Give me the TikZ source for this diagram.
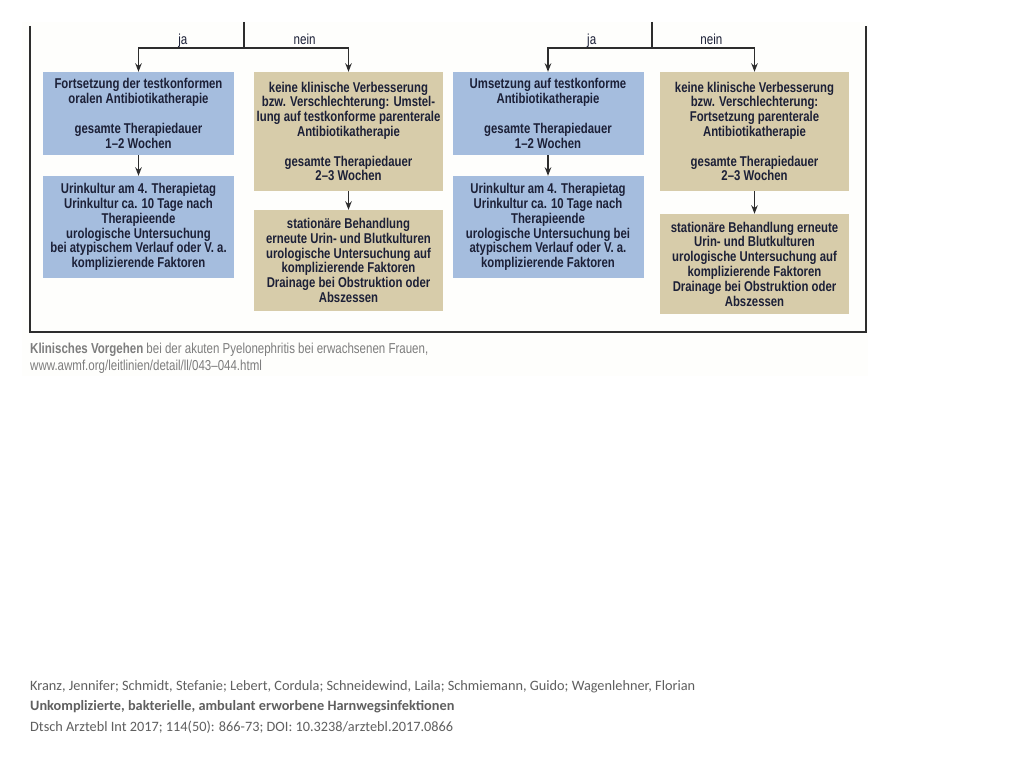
\documentclass[tikz,border=0pt]{standalone}
\usepackage{fontspec}
\setmainfont{Liberation Sans}
\newfontfamily\condfont[FakeStretch=0.8]{Liberation Sans}
\newfontfamily\citefont{Carlito}
\usetikzlibrary{arrows.meta}
\definecolor{therCol}{RGB}{165,189,222}
\definecolor{escCol}{RGB}{215,204,170}
\definecolor{txtCol}{RGB}{28,32,55}
\definecolor{lineCol}{RGB}{45,45,45}
\definecolor{capGray}{RGB}{125,125,125}
\definecolor{citeGray}{RGB}{95,95,95}
\definecolor{paperCol}{RGB}{254,254,252}
\newcommand{\gap}{\\[14.8pt]}
\tikzset{
  box/.style={align=center, text=txtCol, inner sep=0pt,
              font=\condfont\bfseries\fontsize{14.2}{14.8}\selectfont},
  ther/.style={box, fill=therCol, minimum width=191pt},
  esc/.style={box, fill=escCol, minimum width=189pt},
  branch/.style={draw=lineCol, line width=1.8pt},
  dep/.style={-{Stealth[length=8.5pt,width=6.5pt]}, draw=lineCol, line width=1.7pt},
  lbl/.style={font=\condfont\fontsize{14.5}{15}\selectfont, text=txtCol, inner sep=0pt,
              text height=8pt, text depth=0pt, yshift=-1pt, pos=0.29, above=4pt},
}

\begin{document}
\begin{tikzpicture}[x=1pt,y=-1pt]
  \useasboundingbox (0,0) rectangle (1024,768);
  \fill[white] (0,0) rectangle (1024,768);
  \fill[paperCol] (22,22) rectangle (868,376);

  % left pair: ja / nein
  \node[ther, minimum height=83pt] (oralA) at (138.5,113.5)
    {Fortsetzung der testkonformen\\ oralen Antibiotikatherapie\gap
     gesamte Therapiedauer\\ 1–2 Wochen};
  \node[ther, minimum height=102pt] (kulturA) at (138.5,227)
    {Urinkultur am 4. Therapietag\\ Urinkultur ca. 10 Tage nach\\ Therapieende\\
     urologische Untersuchung\\ bei atypischem Verlauf oder V. a.\\ komplizierende Faktoren};
  \node[esc, minimum height=119pt] (paraA) at (348.5,131.5)
    {keine klinische Verbesserung\\ bzw. Verschlechterung: Umstel-\\
     lung auf testkonforme parenterale\\ Antibiotikatherapie\gap
     gesamte Therapiedauer\\ 2–3 Wochen};
  \node[esc, minimum height=101pt] (statA) at (348.5,260.5)
    {stationäre Behandlung\\ erneute Urin- und Blutkulturen\\ urologische Untersuchung auf\\
     komplizierende Faktoren\\ Drainage bei Obstruktion oder\\ Abszessen};

  % right pair: ja / nein
  \node[ther, minimum height=83pt] (oralB) at (548,113.5)
    {Umsetzung auf testkonforme\\ Antibiotikatherapie\gap
     gesamte Therapiedauer\\ 1–2 Wochen};
  \node[ther, minimum height=102pt] (kulturB) at (548,227)
    {Urinkultur am 4. Therapietag\\ Urinkultur ca. 10 Tage nach\\ Therapieende\\
     urologische Untersuchung bei\\ atypischem Verlauf oder V. a.\\ komplizierende Faktoren};
  \node[esc, minimum height=119pt] (paraB) at (754.5,131.5)
    {keine klinische Verbesserung\\ bzw. Verschlechterung:\\
     Fortsetzung parenterale\\ Antibiotikatherapie\gap
     gesamte Therapiedauer\\ 2–3 Wochen};
  \node[esc, minimum height=100pt] (statB) at (754.5,264)
    {stationäre Behandlung erneute\\ Urin- und Blutkulturen\\ urologische Untersuchung auf\\
     komplizierende Faktoren\\ Drainage bei Obstruktion oder\\ Abszessen};

  % split points
  \coordinate (topA) at (244,22);
  \coordinate (splitA) at (244,48);
  \coordinate (topB) at (652,22);
  \coordinate (splitB) at (652,48);

  \draw[branch] (topA) -- (splitA);
  \draw[dep] (splitA) -| node[lbl] {ja} (oralA.north);
  \draw[dep] (splitA) -| node[lbl] {nein} (paraA.north);
  \draw[branch] (topB) -- (splitB);
  \draw[dep] (splitB) -| node[lbl] {ja} (oralB.north);
  \draw[dep] (splitB) -| node[lbl] {nein} (paraB.north);

  \draw[dep] (oralA) -- (kulturA);
  \draw[dep] (paraA) -- (statA);
  \draw[dep] (oralB) -- (kulturB);
  \draw[dep] (paraB) -- (statB);

  % frame (open at the top)
  \draw[draw=lineCol, line width=1.8pt] (30,26) |- (866,332) -- (866,26);

  \node[anchor=north west, align=left, inner sep=0pt, text=capGray,
        font=\condfont\fontsize{14.4}{17}\selectfont] (caption) at (30,343)
    {\textbf{Klinisches Vorgehen} bei der akuten Pyelonephritis bei erwachsenen Frauen,\\
     www.awmf.org/leitlinien/detail/ll/043–044.html};

  \node[anchor=north west, align=left, inner sep=0pt, text=citeGray,
        font=\citefont\fontsize{14.3}{20.5}\selectfont] (cite) at (30,680)
    {Kranz, Jennifer; Schmidt, Stefanie; Lebert, Cordula; Schneidewind, Laila; Schmiemann, Guido; Wagenlehner, Florian\\
     \textbf{Unkomplizierte, bakterielle, ambulant erworbene Harnwegsinfektionen}\\
     Dtsch Arztebl Int 2017; 114(50): 866-73; DOI: 10.3238/arztebl.2017.0866};
\end{tikzpicture}
\end{document}
